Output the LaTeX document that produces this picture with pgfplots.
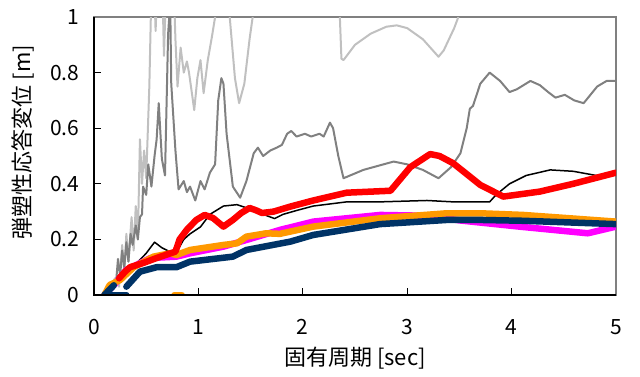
\documentclass[border=0pt]{standalone}
\usepackage{pgfplots}
\pgfplotsset{compat=1.18}
\usepackage{fontspec}
\setmainfont{Noto Sans CJK JP}
\definecolor{lgray}{RGB}{192,192,192}
\definecolor{mgray}{RGB}{128,128,128}
\definecolor{navy}{RGB}{0,51,102}
\definecolor{orng}{RGB}{255,153,0}
\definecolor{magn}{RGB}{255,0,255}
\begin{document}
\begin{tikzpicture}
\path[use as bounding box] (0,0) rectangle (640pt,376pt);
\begin{axis}[
  at={(94pt,81pt)}, anchor=south west,
  scale only axis, width=522pt, height=278pt,
  xmin=0, xmax=5, ymin=0, ymax=1,
  xtick={0,1,2,3,4,5}, ytick={0,0.2,0.4,0.6,0.8,1},
  yticklabels={0,0.2,0.4,0.6,0.8,1},
  tick pos=left, tick align=inside, major tick length=7pt,
  tick style={black, line width=0.8pt},
  axis line style={mgray, line width=1.2pt},
  /pgf/number format/assume math mode=true,
  ticklabel style={font=\fontsize{21}{24}\selectfont},
  xticklabel style={yshift=-21pt},
  yticklabel style={xshift=-11pt},
  xlabel={固有周期 [sec]}, ylabel={弾塑性応答変位 [m]},
  every axis x label/.style={at={(axis description cs:0.5,0)}, anchor=center, yshift=-63pt, font=\fontsize{22}{26}\selectfont},
  every axis y label/.style={at={(axis description cs:0,0.55)}, anchor=center, xshift=-71pt, rotate=90, font=\fontsize{22}{26}\selectfont},
  every axis plot/.append style={line join=round, line cap=round},
  after end axis/.code={\draw[black, line width=1.2pt] (rel axis cs:0,1) -- (rel axis cs:0,0) -- (rel axis cs:1,0);},
]
% light gray
\addplot[lgray, line width=2pt] coordinates {(0.10,0.0)(0.15,0.02)(0.2,0.06)(0.24,0.03)(0.27,0.18)(0.29,0.08)(0.31,0.22)(0.33,0.12)(0.36,0.28)(0.38,0.16)(0.40,0.32)(0.42,0.2)(0.44,0.56)(0.46,0.40)(0.48,0.52)(0.50,0.42)(0.53,0.75)(0.55,1.1)(0.57,1.2)(0.59,0.95)(0.61,1.15)(0.63,1.05)(0.65,1.2)(0.67,0.86)(0.69,1.1)(0.71,1.2)(0.73,1.1)(0.76,1.15)(0.78,0.92)(0.80,0.75)(0.83,0.89)(0.86,0.80)(0.89,0.84)(0.91,0.80)(0.94,0.72)(0.96,0.665)(0.99,0.78)(1.02,0.845)(1.05,0.726)(1.09,0.845)(1.13,0.93)(1.16,1.0)(1.18,1.15)(1.28,1.15)(1.30,1.0)(1.35,0.78)(1.39,0.69)(1.44,0.76)(1.49,0.92)(1.52,1.0)(1.55,1.15)(2.3,1.2)(2.35,1.05)(2.37,0.85)(2.39,0.845)(2.5,0.9)(2.65,0.94)(2.8,0.965)(2.9,0.97)(3.0,0.96)(3.15,0.92)(3.3,0.857)(3.35,0.88)(3.45,0.96)(3.49,1.0)(3.55,1.15)(5,1.2)};
% medium gray
\addplot[mgray, line width=2pt] coordinates {(0.12,0.0)(0.15,0.02)(0.18,0.05)(0.21,0.04)(0.23,0.13)(0.25,0.07)(0.27,0.16)(0.29,0.10)(0.31,0.19)(0.33,0.12)(0.35,0.22)(0.37,0.18)(0.40,0.25)(0.42,0.20)(0.44,0.28)(0.46,0.29)(0.47,0.39)(0.50,0.36)(0.52,0.47)(0.55,0.39)(0.58,0.50)(0.60,0.56)(0.62,0.69)(0.65,0.49)(0.68,0.43)(0.71,0.94)(0.73,1.05)(0.74,0.76)(0.78,0.52)(0.81,0.38)(0.86,0.41)(0.89,0.37)(0.92,0.39)(0.97,0.34)(1.02,0.41)(1.06,0.38)(1.11,0.44)(1.16,0.47)(1.19,0.70)(1.22,0.78)(1.24,0.76)(1.27,0.58)(1.33,0.39)(1.40,0.35)(1.46,0.41)(1.53,0.51)(1.57,0.53)(1.62,0.50)(1.69,0.52)(1.75,0.53)(1.80,0.54)(1.85,0.58)(1.89,0.59)(1.94,0.57)(2.02,0.58)(2.08,0.57)(2.12,0.575)(2.16,0.58)(2.2,0.57)(2.26,0.62)(2.29,0.60)(2.34,0.50)(2.39,0.42)(2.58,0.45)(2.87,0.48)(3.0,0.47)(3.15,0.45)(3.30,0.42)(3.42,0.46)(3.51,0.51)(3.57,0.60)(3.60,0.67)(3.63,0.68)(3.70,0.76)(3.79,0.80)(3.89,0.77)(3.98,0.73)(4.05,0.74)(4.18,0.77)(4.27,0.755)(4.35,0.73)(4.42,0.71)(4.51,0.72)(4.60,0.70)(4.69,0.69)(4.82,0.75)(4.91,0.77)(5.0,0.77)};
% black
\addplot[black, line width=1.5pt] coordinates {(0.10,0.0)(0.18,0.03)(0.28,0.066)(0.41,0.115)(0.50,0.15)(0.58,0.19)(0.65,0.17)(0.73,0.155)(0.80,0.16)(0.86,0.20)(0.92,0.22)(1.02,0.245)(1.11,0.29)(1.24,0.32)(1.37,0.325)(1.49,0.31)(1.62,0.29)(1.73,0.275)(1.81,0.29)(1.95,0.305)(2.10,0.32)(2.42,0.335)(2.74,0.335)(3.19,0.34)(3.44,0.335)(3.70,0.335)(3.79,0.335)(3.85,0.36)(3.98,0.40)(4.14,0.43)(4.37,0.45)(4.59,0.445)(4.81,0.43)(4.90,0.435)};
% magenta
\addplot[magn, line width=6.5pt] coordinates {(0.10,0.0)(0.2,0.04)(0.31,0.09)(0.54,0.133)(0.79,0.138)(0.92,0.15)(1.24,0.174)(1.46,0.198)(1.78,0.234)(2.10,0.264)(2.74,0.288)(3.2,0.285)(3.51,0.268)(4.1,0.245)(4.73,0.222)(5.0,0.246)};
% orange
\addplot[orng, line width=6.5pt] coordinates {(0.10,0.0)(0.15,0.036)(0.25,0.054)(0.38,0.10)(0.57,0.138)(0.73,0.15)(0.79,0.144)(0.92,0.162)(1.24,0.18)(1.37,0.186)(1.46,0.21)(1.65,0.222)(1.78,0.22)(2.10,0.246)(2.74,0.276)(3.38,0.294)(3.70,0.294)(4.11,0.288)(5.0,0.264)};
\addplot[orng, line width=6.5pt] coordinates {(0.77,0)(0.84,0)};
% navy
\addplot[navy, line width=6.5pt] coordinates {(0.10,0.0)(0.19,0.035)};
\addplot[navy, line width=6.5pt] coordinates {(0.10,0.0)(0.31,0.0)};
\addplot[navy, line width=6.5pt] coordinates {(0.31,0.03)(0.44,0.084)(0.60,0.10)(0.79,0.10)(0.92,0.12)(1.33,0.138)(1.46,0.162)(1.88,0.192)(2.10,0.216)(2.74,0.255)(3.38,0.27)(3.70,0.27)(4.11,0.267)(5.0,0.255)};
% red
\addplot[red, line width=6.5pt] coordinates {(0.24,0.06)(0.30,0.085)(0.345,0.10)(0.47,0.115)(0.60,0.133)(0.78,0.156)(0.82,0.20)(0.89,0.235)(0.98,0.27)(1.06,0.288)(1.14,0.277)(1.24,0.246)(1.33,0.27)(1.41,0.295)(1.49,0.313)(1.55,0.305)(1.61,0.295)(1.72,0.30)(1.88,0.318)(2.10,0.34)(2.42,0.368)(2.84,0.375)(3.03,0.46)(3.22,0.507)(3.31,0.50)(3.44,0.474)(3.70,0.396)(3.92,0.354)(4.27,0.372)(4.59,0.40)(5.0,0.44)};
\end{axis}
\end{tikzpicture}
\end{document}
